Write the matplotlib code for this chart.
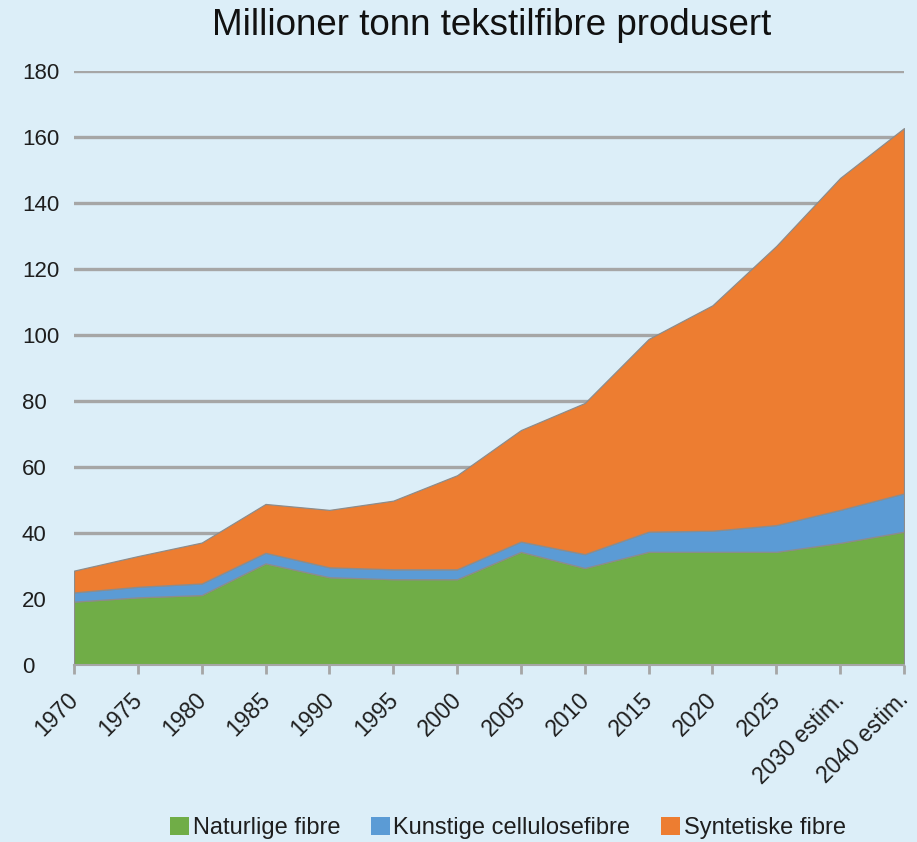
import matplotlib
matplotlib.use("Agg")
import matplotlib.pyplot as plt
from matplotlib.patches import Patch
import matplotlib.transforms as mtransforms
import numpy as np

plt.rcParams['font.family'] = ['Liberation Sans', 'DejaVu Sans']

categories = ["1970", "1975", "1980", "1985", "1990", "1995", "2000", "2005",
              "2010", "2015", "2020", "2025", "2030 estim.", "2040 estim."]
naturlige = [19.2, 20.5, 21.2, 30.8, 26.6, 26.0, 26.0, 34.3, 29.4, 34.3, 34.3, 34.3, 37.0, 40.4]
kunstige_top = [22.0, 23.7, 24.7, 34.0, 29.6, 29.0, 29.0, 37.4, 33.6, 40.4, 40.7, 42.4, 47.0, 52.0]
total = [28.6, 33.0, 37.1, 48.8, 47.0, 49.8, 57.5, 71.2, 79.4, 98.8, 109.0, 127.0, 147.6, 162.7]
kunstige = [k - n for k, n in zip(kunstige_top, naturlige)]
syntetiske = [t - k for t, k in zip(total, kunstige_top)]
series_names = ["Naturlige fibre", "Kunstige cellulosefibre", "Syntetiske fibre"]
colors = ["#70AD47", "#5B9BD5", "#ED7D31"]
bg = "#DCEEF8"
text_color = "#1E1E1E"

fig = plt.figure(figsize=(9.17, 8.42), dpi=100, facecolor=bg)
ax = fig.add_axes([74/917, 1-665/842, (904-74)/917, (665-71)/842], facecolor=bg)

x = np.arange(len(categories))
ax.set_axisbelow(True)
ax.stackplot(x, naturlige, kunstige, syntetiske, colors=colors,
             edgecolor="#8C8C8C", linewidth=0.9, zorder=3)

ax.set_xlim(0, len(categories) - 1)
ax.set_ylim(0, 180)
ax.set_yticks(range(0, 181, 20))
ax.yaxis.grid(True, color="#A6A6A6", linewidth=2.4)
for s in ["top", "right", "left"]:
    ax.spines[s].set_visible(False)
ax.spines["bottom"].set_color("#A6A6A6")
ax.spines["bottom"].set_linewidth(1.5)
ax.spines["bottom"].set_zorder(4)
ax.tick_params(axis="y", length=0, pad=37.5, labelsize=16, colors=text_color)
ax.tick_params(axis="x", length=6.5, width=2, color="#A6A6A6", labelsize=16.5, colors=text_color, pad=16)
ax.set_xticks(x)
ax.set_xticklabels(categories, rotation=45, ha="right", va="center", rotation_mode="anchor")
shift = mtransforms.ScaledTranslation(1/100, 0, fig.dpi_scale_trans)
for lbl in ax.get_xticklabels():
    lbl.set_transform(lbl.get_transform() + shift)
for lbl in ax.get_yticklabels():
    lbl.set_horizontalalignment("left")

fig.text(492/917, 1-35/842, "Millioner tonn tekstilfibre produsert", ha="center", va="baseline",
         fontsize=26.5, color="#111111")

handles = [Patch(facecolor=c, edgecolor="none") for c in colors]
fig.legend(handles, series_names, loc="center", bbox_to_anchor=(508/917, 1-828/842), ncol=3,
           frameon=False, fontsize=17, handlelength=0.8, handleheight=0.8, handletextpad=0.15,
           columnspacing=1.3, labelcolor=text_color)

fig.savefig("out.png", dpi=100, facecolor=bg)
